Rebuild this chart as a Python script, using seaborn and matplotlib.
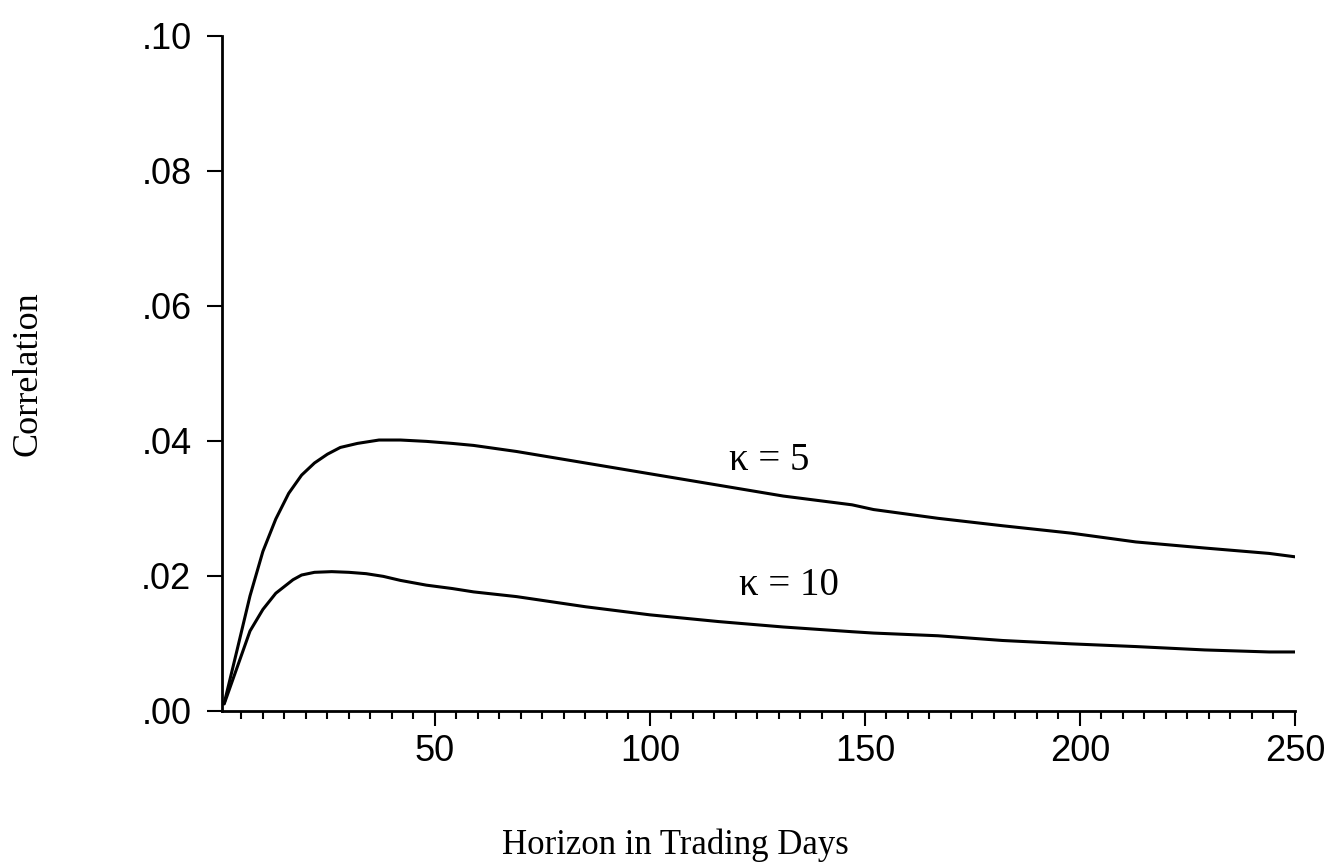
import numpy as np
import pandas as pd
import matplotlib
matplotlib.use("Agg")
import matplotlib.pyplot as plt
import matplotlib.ticker as mticker
import seaborn as sns

# values
days_k5 = [1, 4, 7, 10, 13, 16, 19, 22, 25, 28, 32, 37, 42, 48, 54, 59, 69, 85,
           100, 116, 131, 147, 152, 167, 182, 198, 213, 229, 244, 250]
corr_k5 = [0.0011, 0.0090, 0.0170, 0.0236, 0.0284, 0.0322, 0.0349, 0.0367, 0.0380,
           0.0390, 0.0396, 0.0401, 0.0401, 0.0399, 0.0396, 0.0393, 0.0384, 0.0367,
           0.0351, 0.0334, 0.0318, 0.0305, 0.0298, 0.0285, 0.0274, 0.0263, 0.0250,
           0.0241, 0.0233, 0.0228]

days_k10 = [1, 4, 7, 10, 13, 17, 19, 22, 26, 30, 34, 38, 42, 48, 54, 59, 69, 85,
            100, 116, 131, 147, 152, 167, 182, 198, 213, 229, 244, 250]
corr_k10 = [0.0010, 0.0064, 0.0118, 0.0150, 0.0174, 0.0194, 0.0201, 0.0205, 0.0206,
            0.0205, 0.0203, 0.0199, 0.0193, 0.0186, 0.0181, 0.0176, 0.0169, 0.0154,
            0.0142, 0.0132, 0.0124, 0.0117, 0.0115, 0.0111, 0.0104, 0.0099, 0.0095,
            0.0090, 0.0087, 0.0087]

labels = ["κ = 5", "κ = 10"]
label_x = [127.7, 132.4]
label_y = [0.0371, 0.0185]

df = pd.concat([
    pd.DataFrame({"day": days_k5, "corr": corr_k5, "kappa": labels[0]}),
    pd.DataFrame({"day": days_k10, "corr": corr_k10, "kappa": labels[1]}),
])

sns.set_style("ticks")
plt.rcParams["font.family"] = ["Liberation Sans", "DejaVu Sans"]
for k in ["text.color", "axes.labelcolor", "xtick.color", "ytick.color"]:
    plt.rcParams[k] = "black"

fig = plt.figure(figsize=(13.32, 8.65), dpi=100)
ax = fig.add_axes([0.1667, 0.1784, 0.9722 - 0.1667, 0.9587 - 0.1784])

sns.lineplot(data=df, x="day", y="corr", hue="kappa", palette=["black", "black"],
             linewidth=2.2, legend=False, ax=ax)

ax.set_xlim(0.5, 250)
ax.set_ylim(0, 0.10)
ax.xaxis.set_major_locator(mticker.MultipleLocator(50))
ax.xaxis.set_minor_locator(mticker.MultipleLocator(5))
ax.yaxis.set_major_locator(mticker.MultipleLocator(0.02))
ax.yaxis.set_major_formatter(mticker.FuncFormatter(lambda v, p: ("%.2f" % v)[1:]))

sns.despine(ax=ax)
for s in ["left", "bottom"]:
    ax.spines[s].set_linewidth(2.0)
    ax.spines[s].set_color("black")

ax.tick_params(axis="both", which="major", direction="out", length=11, width=1.5,
               labelsize=26)
ax.tick_params(axis="x", which="major", pad=6)
ax.tick_params(axis="y", which="major", pad=11)
ax.tick_params(axis="x", which="minor", direction="out", length=6, width=1.5)

serif = ["Liberation Serif", "DejaVu Serif"]
ax.set_xlabel("")
ax.set_ylabel("Correlation", fontsize=26, family=serif, labelpad=70)
fig.text(0.507, 0.013, "Horizon in Trading Days", fontsize=25, family=serif,
         ha="center", va="baseline")

for t, x, y in zip(labels, label_x, label_y):
    ax.text(x, y, t, fontsize=28, family=serif, ha="center", va="center")

fig.savefig("out.png", dpi=100)
